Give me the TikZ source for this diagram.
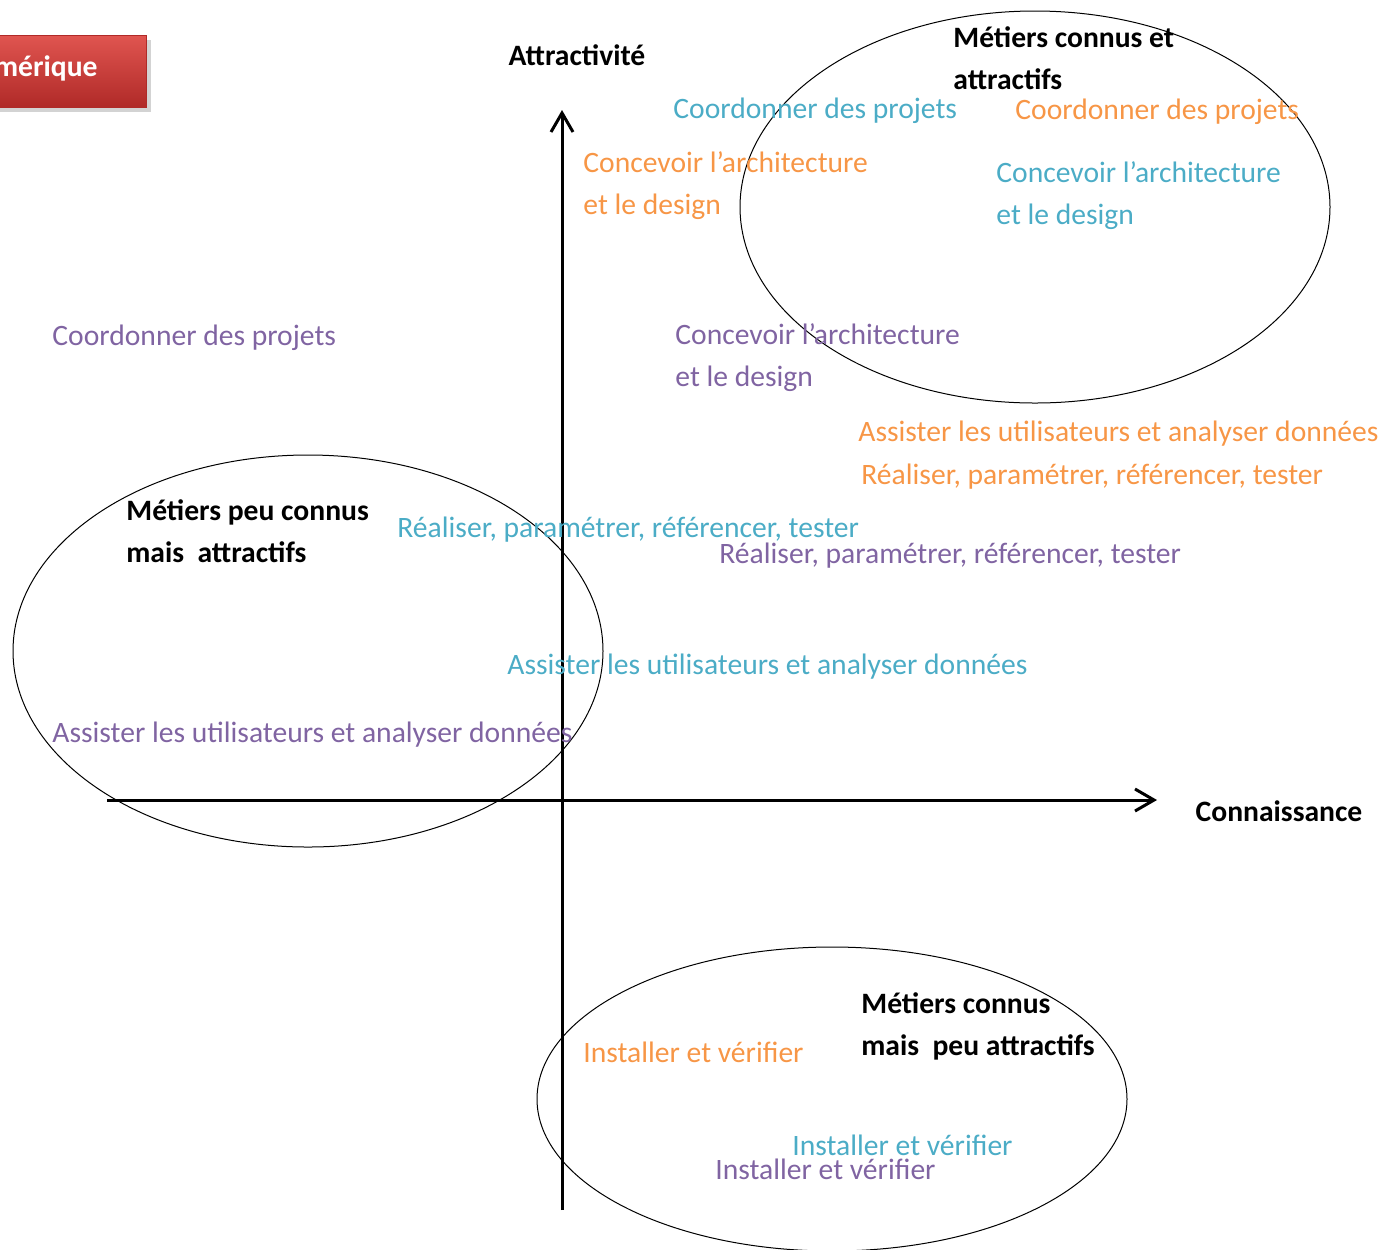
\documentclass[tikz,border=0pt]{standalone}
\usepackage{fontspec}
\setmainfont{Carlito}
\usetikzlibrary{arrows.meta,shadows}
\definecolor{Aqua}{HTML}{4BACC6}
\definecolor{Orange}{HTML}{F79646}
\definecolor{Violet}{HTML}{8064A2}
\definecolor{BrickTop}{HTML}{E05550}
\definecolor{BrickBot}{HTML}{B02A28}
\tikzset{
 item/.style={anchor=west,inner sep=0pt,align=left,font=\fontsize{14.8}{21}\selectfont},
 head/.style={item,font=\fontsize{14.8}{21}\selectfont\bfseries},
 axis/.style={-{Straight Barb[length=9.5pt,width=11pt]},line width=1.5pt},
 zone/.style={draw,line width=0.5pt},
 tag/.style={top color=BrickTop,bottom color=BrickBot,draw=BrickBot,drop shadow={opacity=0.35}}
}
\begin{document}
\begin{tikzpicture}[x=0.5pt,y=-0.5pt]
\useasboundingbox (0,0) rectangle (1380,1249);
\clip (0,0) rectangle (1380,1249);
% band in the corner
\path[tag] (-90,35) rectangle (146,107);
\node[head,text=white,anchor=east] (band) at (98,68) {Numérique};
% axes
\coordinate (ybot) at (562,1210);
\coordinate (ytop) at (562,110);
\coordinate (xleft) at (107,800);
\coordinate (xright) at (1157,800);
\draw[axis] (ybot) -- (ytop);
\draw[axis] (xleft) -- (xright);
\node[head,anchor=center] (attr) at (577,55) {Attractivité};
\node[head,anchor=center] (conn) at (1279,811) {Connaissance};
% zones
\draw[zone] (1035,207) ellipse [x radius=295,y radius=196];
\draw[zone] (308,651) ellipse [x radius=295,y radius=196];
\draw[zone] (832,1099) ellipse [x radius=295,y radius=152];
\node[head] (z1) at (953,58) {Métiers connus et\\attractifs};
\node[head] (z2) at (126,531) {Métiers peu connus\\mais~ attractifs};
\node[head] (z3) at (861,1026) {Métiers connus\\mais~ peu attractifs};
% tasks
\node[item,text=Aqua] (c1) at (673,111) {Coordonner des projets};
\node[item,text=Orange] (c2) at (1015,112) {Coordonner des projets};
\node[item,text=Violet] (c3) at (52,338) {Coordonner des projets};
\node[item,text=Orange] (a1) at (583,186) {Concevoir l’architecture\\et le design};
\node[item,text=Aqua] (a2) at (996,196) {Concevoir l’architecture\\et le design};
\node[item,text=Violet] (a3) at (675,358) {Concevoir l’architecture\\et le design};
\node[item,text=Orange] (u1) at (858,434) {Assister les utilisateurs et analyser données};
\node[item,text=Aqua] (u2) at (507,667) {Assister les utilisateurs et analyser données};
\node[item,text=Violet] (u3) at (52,735) {Assister les utilisateurs et analyser données};
\node[item,text=Orange] (r1) at (861,477) {Réaliser, paramétrer, référencer, tester};
\node[item,text=Aqua] (r2) at (397,530) {Réaliser, paramétrer, référencer, tester};
\node[item,text=Violet] (r3) at (719,556) {Réaliser, paramétrer, référencer, tester};
\node[item,text=Orange] (i1) at (583,1052) {Installer et vérifier};
\node[item,text=Aqua] (i2) at (792,1145) {Installer et vérifier};
\node[item,text=Violet] (i3) at (715,1169) {Installer et vérifier};
\end{tikzpicture}
\end{document}
